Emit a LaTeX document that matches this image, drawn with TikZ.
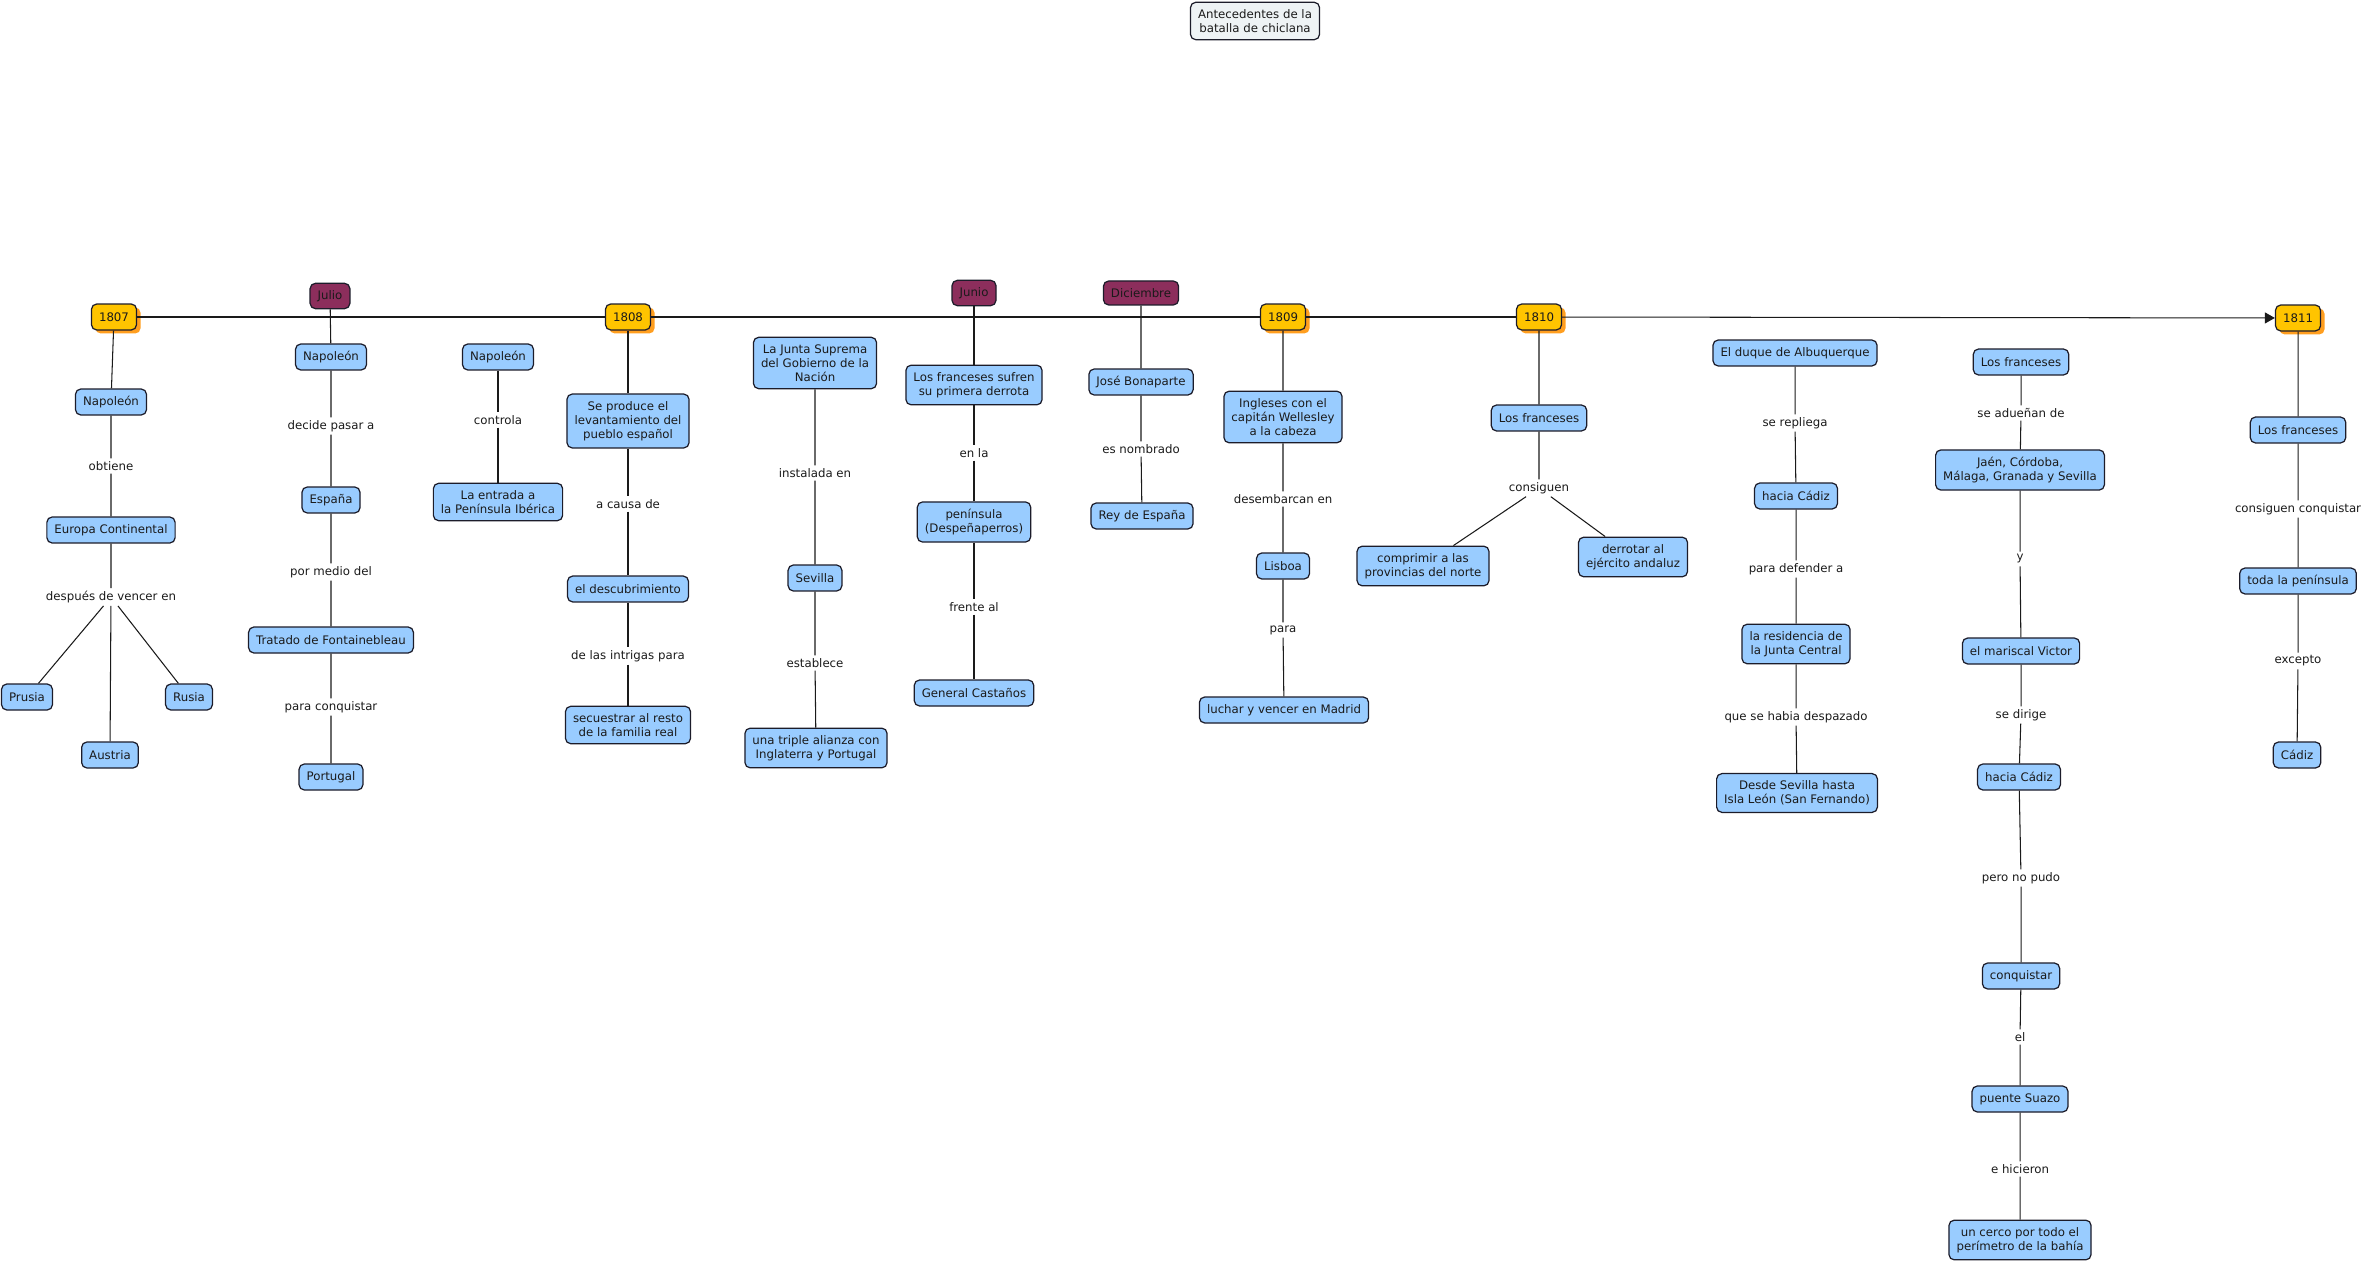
\documentclass[tikz,border=0pt]{standalone}
\usepackage{fontspec}
\setmainfont{DejaVu Sans}
\usepackage{tikz}
\usetikzlibrary{arrows.meta,shadows}
\definecolor{Celeste}{HTML}{99CCFF}
\definecolor{Borde}{HTML}{1C1C2A}
\definecolor{Amarillo}{HTML}{FFC400}
\definecolor{Naranja}{HTML}{FF9E1F}
\definecolor{Morado}{HTML}{8C2E5C}
\definecolor{GrisClaro}{HTML}{EEF3F5}
\definecolor{Linea}{HTML}{1A1A1A}

\begin{document}
\begin{tikzpicture}[
  x=0.02cm,y=-0.02cm,
  font=\fontsize{6.7}{8.1}\selectfont,
  concepto/.style={draw=Borde,line width=0.7pt,rounded corners=3pt,fill=Celeste,text=Linea,align=center,inner xsep=4.3pt,inner ysep=4pt,minimum height=0.52cm},
  anio/.style={concepto,fill=Amarillo,drop shadow={shadow xshift=0.08cm,shadow yshift=-0.07cm,fill=Naranja,opacity=1}},
  mes/.style={concepto,fill=Morado,minimum height=0.48cm},
  enlace/.style={inner sep=1.5pt,align=center,text=Linea},
  lin/.style={draw=Linea,line width=0.6pt},
  arr/.style={lin,-{Triangle[length=0.2cm,width=0.22cm]}}
]
  \useasboundingbox (0,0) rectangle (2365,1263);

  \node[concepto,fill=GrisClaro] (titulo) at (1255,21) {Antecedentes de la\\batalla de chiclana};

  \node[anio] (a1807) at (114,317) {1807};
  \node[anio] (a1808) at (628,317) {1808};
  \node[anio] (a1809) at (1283,317) {1809};
  \node[anio] (a1810) at (1539,317) {1810};
  \node[anio] (a1811) at (2298,318) {1811};
  \node[mes] (julio) at (330,296) {Julio};
  \node[mes] (junio) at (974,293) {Junio};
  \node[mes] (diciembre) at (1141,293) {Diciembre};

  \draw[lin] (a1807)--(a1808)--(a1809)--(a1810);
  \draw[arr] (a1810)--(a1811);

  \node[concepto] (napo1) at (111,402) {Napoleón};
  \node[enlace] (l1) at (111,466) {obtiene};
  \node[concepto] (europa) at (111,530) {Europa Continental};
  \node[enlace] (l2) at (111,597) {después de vencer en};
  \node[concepto] (prusia) at (27,697) {Prusia};
  \node[concepto] (austria) at (110,755) {Austria};
  \node[concepto] (rusia) at (189,697) {Rusia};
  \draw[lin] (a1807)--(napo1)--(l1)--(europa)--(l2)--(austria);
  \draw[lin] (l2)--(prusia);
  \draw[lin] (l2)--(rusia);

  \node[concepto] (napo2) at (331,357) {Napoleón};
  \node[enlace] (l3) at (331,426) {decide pasar a};
  \node[concepto] (espana) at (331,500) {España};
  \node[enlace] (l4) at (331,572) {por medio del};
  \node[concepto] (tratado) at (331,640) {Tratado de Fontainebleau};
  \node[enlace] (l5) at (331,707) {para conquistar};
  \node[concepto] (portugal) at (331,777) {Portugal};
  \draw[lin] (julio)--(napo2)--(l3)--(espana)--(l4)--(tratado)--(l5)--(portugal);

  \node[concepto] (napo3) at (498,357) {Napoleón};
  \node[enlace] (l6) at (498,420) {controla};
  \node[concepto] (entrada) at (498,502) {La entrada a\\la Península Ibérica};
  \draw[lin] (napo3)--(l6)--(entrada);

  \node[concepto] (levant) at (628,421) {Se produce el\\levantamiento del\\pueblo español};
  \node[enlace] (l7) at (628,504) {a causa de};
  \node[concepto] (descub) at (628,589) {el descubrimiento};
  \node[enlace] (l8) at (628,656) {de las intrigas para};
  \node[concepto] (secuestro) at (628,725) {secuestrar al resto\\de la familia real};
  \draw[lin] (a1808)--(levant)--(l7)--(descub)--(l8)--(secuestro);

  \node[concepto] (junta) at (815,363) {La Junta Suprema\\del Gobierno de la\\Nación};
  \node[enlace] (l9) at (815,473) {instalada en};
  \node[concepto] (sevilla) at (815,578) {Sevilla};
  \node[enlace] (l10) at (815,663) {establece};
  \node[concepto] (alianza) at (816,748) {una triple alianza con\\Inglaterra y Portugal};
  \draw[lin] (junta)--(l9)--(sevilla)--(l10)--(alianza);

  \node[concepto] (derrota) at (974,385) {Los franceses sufren\\su primera derrota};
  \node[enlace] (l11) at (974,453) {en la};
  \node[concepto] (peninsula) at (974,522) {península\\(Despeñaperros)};
  \node[enlace] (l12) at (974,607) {frente al};
  \node[concepto] (castanos) at (974,693) {General Castaños};
  \draw[lin] (junio)--(derrota)--(l11)--(peninsula)--(l12)--(castanos);

  \node[concepto] (jose) at (1141,382) {José Bonaparte};
  \node[enlace] (l13) at (1141,449) {es nombrado};
  \node[concepto] (rey) at (1142,516) {Rey de España};
  \draw[lin] (diciembre)--(jose)--(l13)--(rey);

  \node[concepto] (ingleses) at (1283,417) {Ingleses con el\\capitán Wellesley\\a la cabeza};
  \node[enlace] (l14) at (1283,499) {desembarcan en};
  \node[concepto] (lisboa) at (1283,566) {Lisboa};
  \node[enlace] (l15) at (1283,630) {para};
  \node[concepto] (madrid) at (1284,710) {luchar y vencer en Madrid};
  \draw[lin] (a1809)--(ingleses)--(l14)--(lisboa)--(l15)--(madrid);

  \node[concepto] (franc1) at (1539,418) {Los franceses};
  \node[enlace] (l16) at (1539,488) {consiguen};
  \node[concepto] (comprimir) at (1423,566) {comprimir a las\\provincias del norte};
  \node[concepto] (derrotar) at (1633,557) {derrotar al\\ejército andaluz};
  \draw[lin] (a1810)--(franc1)--(l16)--(comprimir);
  \draw[lin] (l16)--(derrotar);

  \node[concepto] (duque) at (1795,353) {El duque de Albuquerque};
  \node[enlace] (l17) at (1795,423) {se repliega};
  \node[concepto] (cadiz1) at (1796,496) {hacia Cádiz};
  \node[enlace] (l18) at (1796,569) {para defender a};
  \node[concepto] (residencia) at (1796,644) {la residencia de\\la Junta Central};
  \node[enlace] (l19) at (1796,717) {que se habia despazado};
  \node[concepto] (desde) at (1797,793) {Desde Sevilla hasta\\Isla León (San Fernando)};
  \draw[lin] (duque)--(l17)--(cadiz1)--(l18)--(residencia)--(l19)--(desde);

  \node[concepto] (franc2) at (2021,362) {Los franceses};
  \node[enlace] (l20) at (2021,413) {se adueñan de};
  \node[concepto] (ciudades) at (2020,470) {Jaén, Córdoba,\\Málaga, Granada y Sevilla};
  \node[enlace] (l21) at (2020,559) {y};
  \node[concepto] (victor) at (2021,651) {el mariscal Victor};
  \node[enlace] (l22) at (2021,715) {se dirige};
  \node[concepto] (cadiz2) at (2019,777) {hacia Cádiz};
  \node[enlace] (l23) at (2021,878) {pero no pudo};
  \node[concepto] (conquistar) at (2021,976) {conquistar};
  \node[enlace] (l24) at (2020,1037) {el};
  \node[concepto] (suazo) at (2020,1099) {puente Suazo};
  \node[enlace] (l25) at (2020,1169) {e hicieron};
  \node[concepto] (cerco) at (2020,1240) {un cerco por todo el\\perímetro de la bahía};
  \draw[lin] (franc2)--(l20)--(ciudades)--(l21)--(victor)--(l22)--(cadiz2)--(l23)--(conquistar)--(l24)--(suazo)--(l25)--(cerco);

  \node[concepto] (franc3) at (2298,430) {Los franceses};
  \node[enlace] (l26) at (2298,509) {consiguen conquistar};
  \node[concepto] (toda) at (2298,581) {toda la península};
  \node[enlace] (l27) at (2298,661) {excepto};
  \node[concepto] (cadiz3) at (2297,755) {Cádiz};
  \draw[lin] (a1811)--(franc3)--(l26)--(toda)--(l27)--(cadiz3);
\end{tikzpicture}
\end{document}
